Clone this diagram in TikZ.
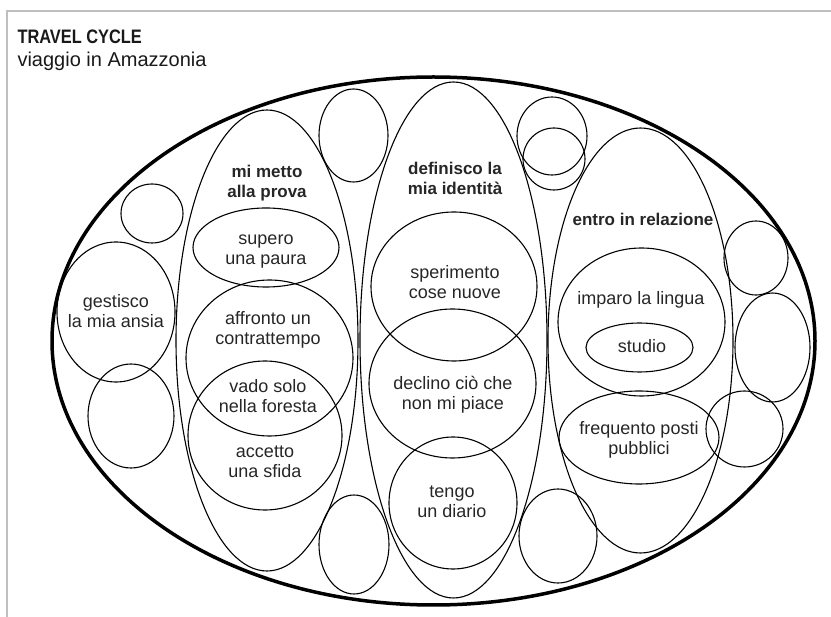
\documentclass[tikz,border=0pt]{standalone}
\usepackage{fontspec}
\setmainfont{Liberation Sans}
\usepackage{tikz}
\usetikzlibrary{positioning}

\begin{document}
\begin{tikzpicture}[x=1pt,y=-1pt,line width=1.1pt,
  txt/.style={align=center,inner sep=0pt,text=black!85,font=\fontsize{18}{20}\selectfont},
  hd/.style={txt,font=\fontsize{17}{20}\selectfont\bfseries},
  ttl/.style={anchor=base west,inner sep=0pt,text=black!90}]
\useasboundingbox (0,0) rectangle (831,617);
\draw[black!25,line width=1.2pt] (831,11) -- (7,11) -- (7,617);
\node[ttl,font=\fontsize{19.5}{20}\selectfont\bfseries] (title) at (17,44) {\scalebox{0.84}[1]{TRAVEL CYCLE}};
\node[ttl,font=\fontsize{20}{22}\selectfont] (sub) at (17,67) {viaggio in Amazzonia};
% big ellipse
\draw[line width=3.5pt] (433.5,341) ellipse (381.5 and 264);
% the three columns
\draw (267,340.5) ellipse (91 and 230.5);
\draw (453.5,340) ellipse (93.5 and 258);
\draw (640.5,340.5) ellipse (92.5 and 212.5);
% empty bubbles
\draw (152,213.5) ellipse (31 and 29.5);
\draw (131,416) ellipse (43 and 52);
\draw (353.5,135.5) ellipse (34.5 and 46.5);
\draw (354,544.5) ellipse (35 and 49.5);
\draw (552,136) ellipse (35 and 39);
\draw (554,159) ellipse (31 and 31);
\draw (756,258) ellipse (32 and 37);
\draw (772.5,347.5) ellipse (37.5 and 54.5);
\draw (744.5,429) ellipse (38.5 and 38);
\draw (558,536) ellipse (39 and 47);
% bubbles with text
\draw (116,312) ellipse (59 and 70);
\draw (266,247.5) ellipse (73 and 39.5);
\draw (269.5,358) ellipse (83.5 and 78);
\draw (265,435.5) ellipse (77 and 74.5);
\draw (454,286.5) ellipse (83 and 74.5);
\draw (452.5,383.5) ellipse (83.5 and 74.5);
\draw (453,503) ellipse (64 and 66);
\draw (641.5,322) ellipse (83.5 and 74);
\draw (639.5,347.5) ellipse (53.5 and 24.5);
\draw (639,437.5) ellipse (80 and 46.5);
% headings
\node[hd] (prova)     at (267,183.5) {mi metto\\alla prova};
\node[hd] (identita)  at (455,178.5) {definisco la\\mia identità};
\node[hd] (relazione) at (643,219)   {entro in relazione};
% labels
\node[txt] (ansia)      at (116,311.5) {gestisco\\la mia ansia};
\node[txt] (paura)      at (266,252)   {supero\\una paura};
\node[txt] (contrattempo) at (268,329.5) {affronto un\\contrattempo};
\node[txt] (foresta)    at (268,396.5) {vado solo\\nella foresta};
\node[txt] (sfida)      at (265,462)   {accetto\\una sfida};
\node[txt] (nuove)      at (455,282.5) {sperimento\\cose nuove};
\node[txt] (piace)      at (453,394.5) {declino ciò che\\non mi piace};
\node[txt] (diario)     at (452,502)   {tengo\\un diario};
\node[txt] (lingua)     at (641,299.5) {imparo la lingua};
\node[txt] (studio)     at (642,346.5) {studio};
\node[txt] (pubblici)   at (639,439.5) {frequento posti\\pubblici};
\end{tikzpicture}
\end{document}
